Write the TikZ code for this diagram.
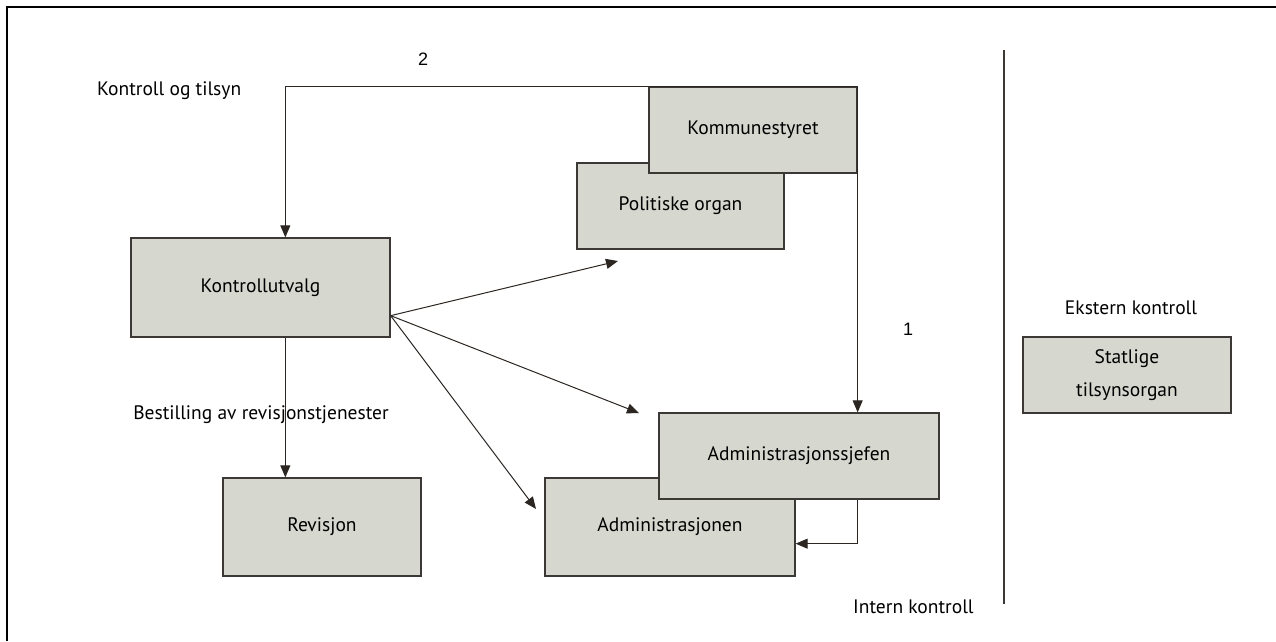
\documentclass[tikz,border=0pt]{standalone}
\usepackage{fontspec}
\setmainfont{PT Sans}
\newfontfamily\numfont{Liberation Sans}
\usetikzlibrary{arrows.meta,calc}
\definecolor{boxfill}{HTML}{D6D7CE}
\definecolor{boxline}{HTML}{3C3835}
\definecolor{arrline}{HTML}{2B2622}
\tikzset{
  box/.style={draw=boxline, fill=boxfill, line width=1.3pt, inner sep=0pt, font=\fontsize{19.5}{33}\selectfont, align=center},
  arr/.style={draw=arrline, line width=1pt, -{Triangle[length=12pt,width=10pt]}},
  lbl/.style={inner sep=0pt, font=\fontsize{19.5}{22}\selectfont},
  num/.style={inner sep=0pt, font=\numfont\fontsize{18}{20}\selectfont},
}
\begin{document}
\begin{tikzpicture}[x=1pt,y=-1pt]
\useasboundingbox (0,0) rectangle (1276,641);
% frame (left and top edges)
\draw[line width=2.5pt] (7,641) -- (7,7) -- (1276,7);
% separator
\draw[boxline, line width=1.2pt] (1004,50) -- (1004,604);

% boxes
\node[box, minimum width=207pt, minimum height=86pt] (po) at (680.5,206) {Politiske organ};
\node[box, minimum width=208pt, minimum height=86pt] (ks) at (753,130) {Kommunestyret};
\node[box, minimum width=259pt, minimum height=99pt] (ku) at (260.5,287.5) {Kontrollutvalg};
\node[box, minimum width=198pt, minimum height=98pt] (rv) at (322,527) {Revisjon};
\node[box, minimum width=250pt, minimum height=98pt] (adm) at (670,527) {Administrasjonen};
\node[box, minimum width=280pt, minimum height=86pt] (asj) at (799,456) {Administrasjonssjefen};
\node[box, minimum width=208pt, minimum height=76pt] (st) at (1127,375) {Statlige\\tilsynsorgan};

% labels
\node[lbl, anchor=west] (l1) at (97,91) {Kontroll og tilsyn};
\node[num] (n2) at (423,59) {2};
\node[num] (n1) at (908,329) {1};
\node[lbl] (l2) at (1131,308) {Ekstern kontroll};
\node[lbl] (l3) at (261,415) {Bestilling av revisjonstjenester};
\node[lbl, anchor=west] (l4) at (853,607) {Intern kontroll};

% connectors
\draw[arr] (ks.north west) -| ($(ku.north west)+(155,0)$);
\draw[draw=arrline, line width=1pt] (ks.north west) -- (ks.north east);
\draw[arr] (ks.north east) -- (ks.north east |- asj.north);
\draw[arr] ($(ku.south west)+(155,0)$) -- ($(rv.north west)+(63,0)$);
\draw[arr] ($(asj.south east)+(-82,0)$) |- ($(adm.south east)+(0,-33)$);

\coordinate (o) at ($(ku.south east)+(0,-22)$);
\coordinate (t1) at (618,261);
\coordinate (t2) at (639,413);
\coordinate (t3) at (536,509);
\draw[arr] (o) -- (t1);
\draw[arr] (o) -- (t2);
\draw[arr] (o) -- (t3);
\end{tikzpicture}
\end{document}
